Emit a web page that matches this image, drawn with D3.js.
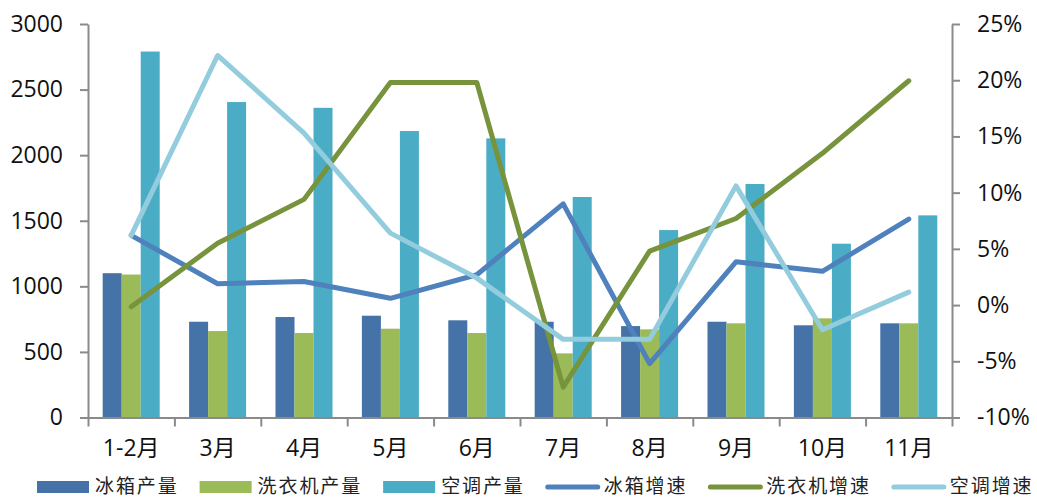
<!DOCTYPE html>
<html><head><meta charset="utf-8">
<script src="https://cdn.jsdelivr.net/npm/d3@7"></script>
<style>
html,body{margin:0;padding:0;background:#fff;}
svg{display:block;}
</style></head>
<body>
<svg id="chart" width="1037" height="498"></svg>
<script>
const categories = ["1-2月","3月","4月","5月","6月","7月","8月","9月","10月","11月"];
const fridgeOutput = [1100,730,766,776,741,730,697,730,703,718];
const washerOutput = [1090,659,644,677,644,489,672,718,756,718];
const acOutput     = [2790,2405,2361,2184,2128,1681,1429,1780,1325,1541];
const fridgeGrowth = [6.2,1.9,2.1,0.6,2.7,9.0,-5.2,3.85,3.0,7.65];
const washerGrowth = [-0.15,5.5,9.4,19.8,19.8,-7.3,4.8,7.7,13.5,19.95];
const acGrowth     = [6.2,22.2,15.3,6.4,2.4,-3.05,-3.05,10.6,-2.2,1.15];
const leftTicks  = [0,500,1000,1500,2000,2500,3000];
const rightTicks = [-10,-5,0,5,10,15,20,25];
const barSeries  = ["冰箱产量","洗衣机产量","空调产量"];
const lineSeries = ["冰箱增速","洗衣机增速","空调增速"];

const barColors  = ["#4572A7","#9BBB59","#4BACC6"];
const lineColors = ["#4F81BD","#77933C","#93CDDD"];
const barData  = [fridgeOutput, washerOutput, acOutput];
const lineData = [fridgeGrowth, washerGrowth, acGrowth];

const svg = d3.select("#chart");
const L = 88, R = 952, T = 24, B = 417.5;
const axisColor = "#8a8a8a";
const numFont = "'Open Sans', 'Noto Sans CJK SC', sans-serif";

const x = d3.scaleBand().domain(categories).range([L, R]).paddingInner(0.34).paddingOuter(0.17);
const xi = d3.scaleBand().domain(barSeries).range([0, x.bandwidth()]);
const y = d3.scaleLinear().domain([0, 3000]).range([B, T]);
const y2 = d3.scaleLinear().domain([-10, 25]).range([B, T]);

// bars
barSeries.forEach((s, si) => {
  svg.append("g").selectAll("rect").data(barData[si]).join("rect")
    .attr("x", (d, i) => x(categories[i]) + xi(s))
    .attr("y", d => y(d))
    .attr("width", xi.bandwidth())
    .attr("height", d => B - y(d))
    .attr("fill", barColors[si]);
});

// axes
function styleAxis(g) {
  g.selectAll("path.domain").attr("stroke", axisColor).attr("stroke-width", 2);
  g.selectAll(".tick line").attr("stroke", axisColor).attr("stroke-width", 2);
  g.selectAll("text").attr("fill", "#111").style("font-family", numFont).style("font-size", "23px");
}
svg.append("g").attr("transform", `translate(${L},0)`)
  .call(d3.axisLeft(y).tickValues(leftTicks).tickFormat(d3.format("d")).tickSize(8).tickSizeOuter(0).tickPadding(17))
  .call(styleAxis);
svg.append("g").attr("transform", `translate(${R},0)`)
  .call(d3.axisRight(y2).tickValues(rightTicks).tickFormat(d => d + "%").tickSize(8).tickSizeOuter(0).tickPadding(17))
  .call(styleAxis);

// x axis with boundary ticks
const xb = d3.scaleLinear().domain([0, categories.length]).range([L, R]);
svg.append("g").attr("transform", `translate(0,${B})`)
  .call(d3.axisBottom(xb).tickValues(d3.range(categories.length + 1)).tickFormat("").tickSize(9).tickSizeOuter(0))
  .call(styleAxis);
svg.append("g").attr("transform", `translate(0,${B})`)
  .call(d3.axisBottom(x).tickSize(0).tickPadding(22))
  .call(g => g.select(".domain").remove())
  .call(g => g.selectAll("text").attr("fill", "#111").style("font-family", numFont).style("font-size", "23px"));

// lines
const lineGen = d3.line()
  .x((d, i) => x(categories[i]) + x.bandwidth() / 2)
  .y(d => y2(d));
lineSeries.forEach((s, si) => {
  svg.append("path").datum(lineData[si])
    .attr("d", lineGen)
    .attr("fill", "none")
    .attr("stroke", lineColors[si])
    .attr("stroke-width", 5)
    .attr("stroke-linejoin", "round")
    .attr("stroke-linecap", "round");
});

// legend
const legend = svg.append("g");
const legFont = "'Noto Sans CJK SC', sans-serif";
let lx = 37;
const ly = 487;
const items = barSeries.map((s, i) => ({name: s, color: barColors[i], type: "bar"}))
  .concat(lineSeries.map((s, i) => ({name: s, color: lineColors[i], type: "line"})));
items.forEach(it => {
  if (it.type === "bar") {
    legend.append("rect").attr("x", lx).attr("y", ly - 6).attr("width", 52).attr("height", 12).attr("fill", it.color);
  } else {
    legend.append("line").attr("x1", lx + 2).attr("x2", lx + 52).attr("y1", ly).attr("y2", ly)
      .attr("stroke", it.color).attr("stroke-width", 5).attr("stroke-linecap", "round");
  }
  const t = legend.append("text").attr("x", lx + 58).attr("y", 492.5)
    .style("font-family", legFont).style("font-size", "19px").style("letter-spacing", "1.9px")
    .attr("fill", "#222").text(it.name);
  lx += 58 + t.node().getComputedTextLength() + 21;
});
</script>
</body></html>
